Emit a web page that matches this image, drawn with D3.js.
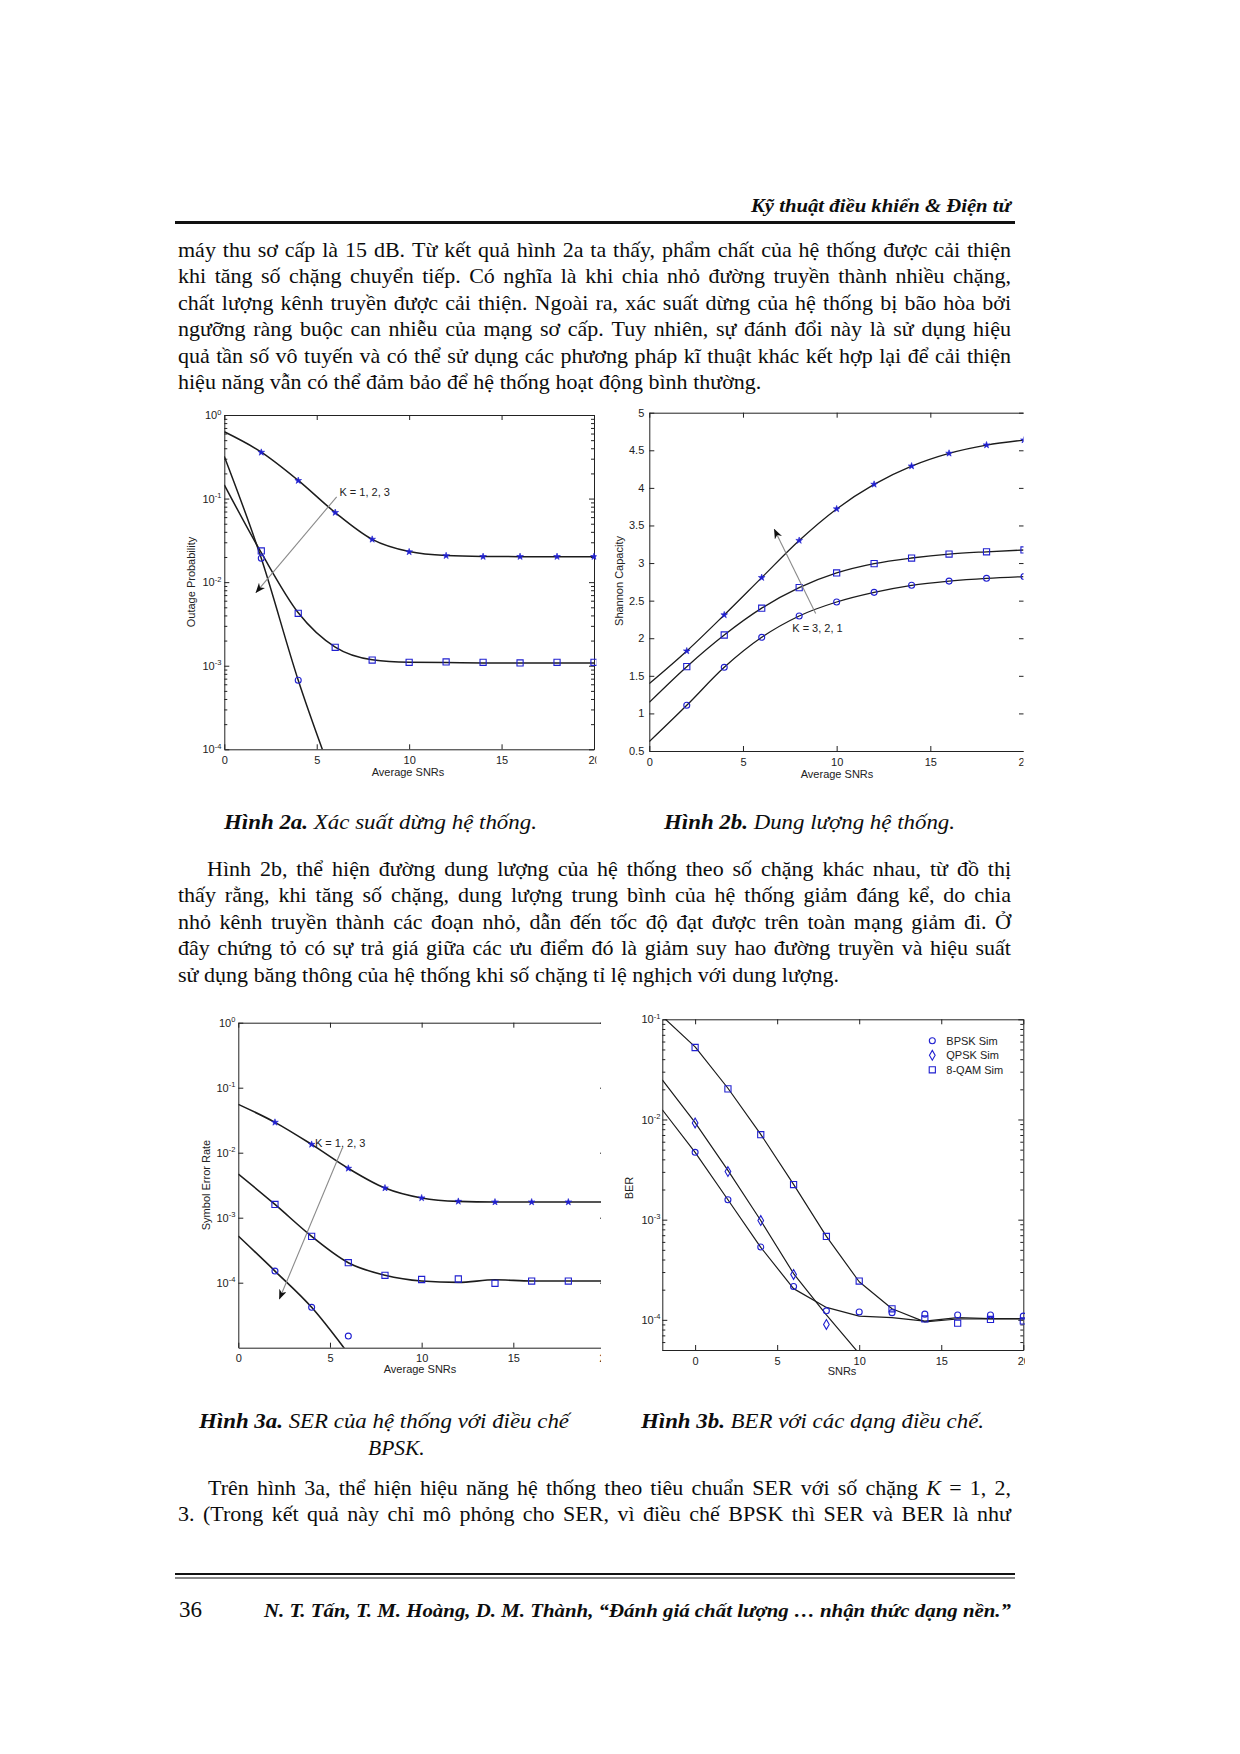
<!DOCTYPE html>
<html>
<head>
<meta charset="utf-8">
<script src="https://cdn.jsdelivr.net/npm/d3@7"></script>
<style>
  body { margin: 0; background: #fff; }
  svg { display: block; }
  .serif { font-family: "Liberation Serif", "Times New Roman", serif; fill: #0d0d0d; white-space: pre; }
  .ax text, .sans { font-family: "Liberation Sans", Arial, sans-serif; font-size: 11px; fill: #222; }
  .ax path, .ax line { stroke: #222; }
</style>
</head>
<body>
<div id="page"></div>
<script>
// ---- chart data ----
const snr = [0, 2, 4, 6, 8, 10, 12, 14, 16, 18, 20];
const snrSim = [2, 4, 6, 8, 10, 12, 14, 16, 18, 20];
const snrK3 = [0, 2, 4, 6];

// Hình 2a - Outage Probability
const outK1 = [0.63, 0.36, 0.165, 0.068, 0.0325, 0.0232, 0.0208, 0.0203, 0.0202, 0.0202, 0.0202];
const outK1Sim = [0.357, 0.164, 0.068, 0.0325, 0.023, 0.0207, 0.0202, 0.0202, 0.0202, 0.0202];
const outK2 = [0.146, 0.0225, 0.0043, 0.00167, 0.00118, 0.0011, 0.00109, 0.00108, 0.00108, 0.00108, 0.00108];
const outK2Sim = [0.0236, 0.00424, 0.00166, 0.00117, 0.0011, 0.00111, 0.0011, 0.00108, 0.0011, 0.0011];
const outK3 = [0.32, 0.0193, 0.00067, 0.000038];
const outK3Sim = [0.0193, 0.00067];

// Hình 2b - Shannon Capacity
const capK1 = [1.396, 1.83, 2.31, 2.806, 3.3, 3.72, 4.047, 4.29, 4.46, 4.57, 4.636];
const capK2 = [1.148, 1.622, 2.043, 2.4, 2.673, 2.868, 2.992, 3.067, 3.12, 3.15, 3.174];
const capK3 = [0.625, 1.108, 1.613, 2.012, 2.296, 2.482, 2.61, 2.704, 2.76, 2.797, 2.82];
const capTicks = [0.5, 1, 1.5, 2, 2.5, 3, 3.5, 4, 4.5, 5];

// Hình 3a - Symbol Error Rate
const snrSer = [2, 4, 6, 8, 10, 12, 14, 16, 18];
const serK1 = [0.0554, 0.0293, 0.0134, 0.00574, 0.00286, 0.00201, 0.00178, 0.00174, 0.00174, 0.00174, 0.00174];
const serK1Sim = [0.0293, 0.0134, 0.00574, 0.00286, 0.00201, 0.00178, 0.00174, 0.00174, 0.00174];
const serK2 = [0.0047, 0.0016, 0.000516, 0.000203, 0.00013, 0.000106, 0.000101, 0.000111, 0.000106, 0.000106, 0.000106];
const serK2Sim = [0.0016, 0.000516, 0.000203, 0.00013, 0.000112, 0.000114, 0.000098, 0.000106, 0.000106];
const serK3 = [0.000522, 0.000151, 0.0000418, 0.0000081];
const serK3Sim = [0.000151, 0.0000418, 0.0000151];

// Hình 3b - BER
const snrBer = [-2, 0, 2, 4, 6, 8, 10, 12, 14, 16, 18, 20];
const snrBerQ = [-2, 0, 2, 4, 6, 8, 10];
const snrBerQSim = [0, 2, 4, 6, 8];
const berBpsk = [0.0125, 0.0047, 0.00158, 0.00053, 0.000205, 0.000133, 0.000109, 0.000105, 0.000097, 0.000105, 0.000103, 0.000103];
const berBpskSim = [0.0047, 0.00158, 0.000533, 0.000215, 0.000123, 0.00012, 0.000118, 0.000114, 0.000112, 0.000112, 0.000109];
const berQpsk = [0.0249, 0.0093, 0.0031, 0.00098, 0.00029, 0.000112, 0.000046];
const berQpskSim = [0.00923, 0.00302, 0.00098, 0.000284, 0.00009];
const berQam = [0.107, 0.053, 0.0205, 0.0071, 0.00225, 0.00068, 0.00024, 0.000129, 0.0000955, 0.000102, 0.000102, 0.000102];
const berQamSim = [0.0523, 0.0202, 0.00705, 0.00224, 0.00068, 0.000244, 0.000129, 0.000102, 0.0000925, 0.000101, 0.0000975];
const berLegend = ["BPSK Sim", "QPSK Sim", "8-QAM Sim"];

const snrTicks = [0, 5, 10, 15, 20];

// ---- page text ----
const para1 = [
  "máy thu sơ cấp là 15 dB. Từ kết quả hình 2a ta thấy, phẩm chất của hệ thống được cải thiện",
  "khi tăng số chặng chuyển tiếp. Có nghĩa là khi chia nhỏ đường truyền thành nhiều chặng,",
  "chất lượng kênh truyền được cải thiện. Ngoài ra, xác suất dừng của hệ thống bị bão hòa bởi",
  "ngưỡng ràng buộc can nhiễu của mạng sơ cấp. Tuy nhiên, sự đánh đổi này là sử dụng hiệu",
  "quả tần số vô tuyến và có thể sử dụng các phương pháp kĩ thuật khác kết hợp lại để cải thiện",
  "hiệu năng vẫn có thể đảm bảo để hệ thống hoạt động bình thường."
];
const para2 = [
  "Hình 2b, thể hiện đường dung lượng của hệ thống theo số chặng khác nhau, từ đồ thị",
  "thấy rằng, khi tăng số chặng, dung lượng trung bình của hệ thống giảm đáng kể, do chia",
  "nhỏ kênh truyền thành các đoạn nhỏ, dẫn đến tốc độ đạt được trên toàn mạng giảm đi. Ở",
  "đây chứng tỏ có sự trả giá giữa các ưu điểm đó là giảm suy hao đường truyền và hiệu suất",
  "sử dụng băng thông của hệ thống khi số chặng tỉ lệ nghịch với dung lượng."
];
const para3 = [
  "Trên hình 3a, thể hiện hiệu năng hệ thống theo tiêu chuẩn SER với số chặng _K = 1, 2,",
  "3. (Trong kết quả này chỉ mô phỏng cho SER, vì điều chế BPSK thì SER và BER là như"
];

const blue = "#2020d0";
const ink = "#1c1c1c";

const svg = d3.select("#page").append("svg").attr("width", 1240).attr("height", 1754);
svg.append("rect").attr("width", 1240).attr("height", 1754).attr("fill", "#fff");
const defs = svg.append("defs");
defs.append("marker").attr("id", "arrow")
  .attr("viewBox", "0 0 10 8").attr("refX", 9.5).attr("refY", 4)
  .attr("markerWidth", 10).attr("markerHeight", 8)
  .attr("markerUnits", "userSpaceOnUse").attr("orient", "auto")
  .append("path").attr("d", "M0,0 L10,4 L0,8 L3,4 Z").attr("fill", "#111");

// justified line: words spread between x0 and x1
function textLine(str, x0, x1, y, justify) {
  const g = svg.append("g").attr("class", "serif").style("font-size", "22px");
  const words = str.split(" ");
  const nodes = words.map(w => {
    const t = g.append("text").attr("y", y);
    if (w.startsWith("_")) t.style("font-style", "italic").text(w.slice(1));
    else t.text(w);
    return t;
  });
  const widths = nodes.map(t => t.node().getComputedTextLength());
  const gap = justify ? (x1 - x0 - d3.sum(widths)) / (words.length - 1) : 5.6;
  let x = x0;
  nodes.forEach((t, i) => { t.attr("x", x); x += widths[i] + gap; });
}

function paragraph(lines, y0, indent, lastJustified) {
  lines.forEach((line, i) => {
    const last = i === lines.length - 1;
    textLine(line, 178 + (i === 0 ? indent : 0), 1011, y0 + i * 26.4, !last || lastJustified);
  });
}

function richText(parts, x, y, size, width) {
  const t = svg.append("text").attr("class", "serif").attr("x", x).attr("y", y).style("font-size", size + "px");
  parts.forEach(p => t.append("tspan")
    .style("font-weight", p.b ? "bold" : "normal")
    .style("font-style", p.i ? "italic" : "normal")
    .text(p.t));
  if (width) t.attr("textLength", width).attr("lengthAdjust", "spacingAndGlyphs");
  return t;
}

// header
richText([{ t: "Kỹ thuật điều khiển & Điện tử", b: 1, i: 1 }], 751, 212, 19.5, 260);
svg.append("line").attr("x1", 175).attr("x2", 1015).attr("y1", 222.5).attr("y2", 222.5)
  .attr("stroke", "#111").attr("stroke-width", 3);

paragraph(para1, 257, 0, false);
paragraph(para2, 876, 29, false);
paragraph(para3, 1495, 30, true);

// captions
richText([{ t: "Hình 2a.", b: 1, i: 1 }, { t: " Xác suất dừng hệ thống.", i: 1 }], 224, 829, 21.5, 313);
richText([{ t: "Hình 2b.", b: 1, i: 1 }, { t: " Dung lượng hệ thống.", i: 1 }], 664, 829, 21.5, 291);
richText([{ t: "Hình 3a.", b: 1, i: 1 }, { t: " SER của hệ thống với điều chế", i: 1 }], 199, 1428, 21.5, 370);
richText([{ t: "BPSK.", i: 1 }], 368, 1455, 21.5);
richText([{ t: "Hình 3b.", b: 1, i: 1 }, { t: " BER với các dạng điều chế.", i: 1 }], 641, 1428, 21.5, 343);

// footer
svg.append("line").attr("x1", 175).attr("x2", 1015).attr("y1", 1574).attr("y2", 1574)
  .attr("stroke", "#111").attr("stroke-width", 2);
svg.append("line").attr("x1", 175).attr("x2", 1015).attr("y1", 1578).attr("y2", 1578)
  .attr("stroke", "#111").attr("stroke-width", 1);
richText([{ t: "36" }], 179, 1617, 23);
richText([{ t: "N. T. Tấn, T. M. Hoàng, D. M. Thành, “Đánh giá chất lượng … nhận thức dạng nền.”", b: 1, i: 1 }],
  264, 1617, 19.5, 747);

// ---- charts ----
function drawChart(o) {
  const x = d3.scaleLinear().domain(o.xDomain).range([o.left, o.right]);
  const y = (o.log ? d3.scaleLog() : d3.scaleLinear()).domain(o.yDomain).range([o.bottom, o.top]);

  defs.append("clipPath").attr("id", o.id + "-fig").append("rect")
    .attr("x", o.left - 70).attr("y", o.top - 15)
    .attr("width", o.clip - o.left + 70).attr("height", o.bottom - o.top + 50);
  defs.append("clipPath").attr("id", o.id + "-plot").append("rect")
    .attr("x", o.left).attr("y", o.top)
    .attr("width", Math.min(o.right, o.clip) - o.left).attr("height", o.bottom - o.top);

  const fig = svg.append("g").attr("clip-path", `url(#${o.id}-fig)`);
  const tk = 5;

  fig.append("g").attr("class", "ax").attr("transform", `translate(0,${o.bottom})`)
    .call(d3.axisBottom(x).tickValues(snrTicks).tickSizeInner(-tk).tickSizeOuter(0).tickPadding(7).tickFormat(d => d));
  fig.append("g").attr("class", "ax").attr("transform", `translate(0,${o.top})`)
    .call(d3.axisTop(x).tickValues(snrTicks).tickSizeInner(-tk).tickSizeOuter(0).tickFormat(""));
  const leftAx = fig.append("g").attr("class", "ax").attr("transform", `translate(${o.left},0)`)
    .call(d3.axisLeft(y).tickValues(o.yTicks).tickSizeInner(-tk).tickSizeOuter(0).tickPadding(o.pad).tickFormat(d => d));
  fig.append("g").attr("class", "ax").attr("transform", `translate(${o.right},0)`)
    .call(d3.axisRight(y).tickValues(o.yTicks).tickSizeInner(-tk).tickSizeOuter(0).tickFormat(""));

  if (o.log) {
    leftAx.selectAll(".tick text").text("").each(function (d) {
      const t = d3.select(this);
      t.append("tspan").text("10");
      t.append("tspan").attr("dy", "-0.6em").style("font-size", "7.5px").text(Math.round(Math.log10(d)));
    });
    if (o.minor) {
      const minor = y.ticks().filter(v => Math.abs(Math.log10(v) - Math.round(Math.log10(v))) > 1e-6);
      fig.append("g").attr("class", "ax").attr("transform", `translate(${o.left},0)`)
        .call(d3.axisLeft(y).tickValues(minor).tickSizeInner(-3).tickSizeOuter(0).tickFormat(""))
        .select(".domain").remove();
      fig.append("g").attr("class", "ax").attr("transform", `translate(${o.right},0)`)
        .call(d3.axisRight(y).tickValues(minor).tickSizeInner(-3).tickSizeOuter(0).tickFormat(""))
        .select(".domain").remove();
    }
  }

  fig.append("text").attr("class", "sans")
    .attr("transform", `translate(${o.ylab[0]},${o.ylab[1]}) rotate(-90)`)
    .attr("text-anchor", "middle").attr("dy", "0.35em").text(o.ylabel);
  fig.append("text").attr("class", "sans")
    .attr("x", o.xlab[0]).attr("y", o.xlab[1]).attr("text-anchor", "middle").text(o.xlabel);

  const plot = fig.append("g").attr("clip-path", `url(#${o.id}-plot)`);
  const line = d3.line().x(d => x(d[0])).y(d => y(d[1])).curve(o.curve);
  o.lines.forEach(s => {
    plot.append("path").datum(d3.zip(s[0], s[1]))
      .attr("fill", "none").attr("stroke", ink).attr("stroke-width", o.lw)
      .attr("stroke-linejoin", "round").attr("d", line);
  });

  o.marks.forEach(m => {
    fig.append("g").selectAll("path").data(d3.zip(m.x, m.y)).join("path")
      .attr("transform", d => `translate(${x(d[0])},${y(d[1])})`)
      .attr("d", d3.symbol().type(m.type).size(m.size))
      .attr("fill", m.fill ? blue : "none").attr("stroke", blue).attr("stroke-width", m.fill ? 0.6 : 1.1);
  });

  if (o.arrow) {
    const a = o.arrow;
    fig.append("line")
      .attr("x1", x(a.from[0])).attr("y1", y(a.from[1]))
      .attr("x2", x(a.to[0])).attr("y2", y(a.to[1]))
      .attr("stroke", "#8a8a8a").attr("stroke-width", 1.1).attr("marker-end", "url(#arrow)");
    fig.append("text").attr("class", "sans")
      .attr("x", x(a.at[0])).attr("y", y(a.at[1])).attr("dy", "0.35em").text(a.text);
  }

  if (o.legend) {
    const lg = fig.append("g").attr("transform", `translate(${o.right - 91},${o.top + 21.5})`);
    o.legend.forEach((name, i) => {
      lg.append("path").attr("transform", `translate(0,${i * 14.5})`)
        .attr("d", d3.symbol().type(o.marks[i].type).size(o.marks[i].size))
        .attr("fill", "none").attr("stroke", blue).attr("stroke-width", 1.1);
      lg.append("text").attr("class", "sans").attr("x", 14).attr("y", i * 14.5).attr("dy", "0.35em").text(name);
    });
  }
}

drawChart({
  id: "f2a", left: 224.3, right: 594, top: 415, bottom: 749.3, clip: 596.5,
  xDomain: [0, 20], log: true, yDomain: [1e-4, 1], yTicks: [1e-4, 1e-3, 1e-2, 1e-1, 1], minor: true, pad: 3,
  ylabel: "Outage Probability", ylab: [190.7, 582], xlabel: "Average SNRs", xlab: [408, 775.5],
  lw: 1.5, curve: d3.curveMonotoneX,
  lines: [[snr, outK1], [snr, outK2], [snrK3, outK3]],
  marks: [
    { x: snrSim, y: outK1Sim, type: d3.symbolStar, size: 14, fill: true },
    { x: snrSim, y: outK2Sim, type: d3.symbolSquare, size: 38 },
    { x: [2, 4], y: outK3Sim, type: d3.symbolCircle, size: 28 }
  ],
  arrow: { from: [6.08, 0.105], to: [1.71, 0.0075], at: [6.23, 0.118], text: "K = 1, 2, 3" }
});

drawChart({
  id: "f2b", left: 649.3, right: 1024, top: 412.7, bottom: 751, clip: 1023.5,
  xDomain: [0, 20], log: false, yDomain: [0.5, 5], yTicks: capTicks, pad: 5,
  ylabel: "Shannon Capacity", ylab: [619, 581], xlabel: "Average SNRs", xlab: [837, 778],
  lw: 1.3, curve: d3.curveMonotoneX,
  lines: [[snr, capK1], [snr, capK2], [snr, capK3]],
  marks: [
    { x: snrSim, y: capK1.slice(1), type: d3.symbolStar, size: 14, fill: true },
    { x: snrSim, y: capK2.slice(1), type: d3.symbolSquare, size: 38 },
    { x: snrSim, y: capK3.slice(1), type: d3.symbolCircle, size: 28 }
  ],
  arrow: { from: [8.88, 2.33], to: [6.67, 3.45], at: [7.63, 2.14], text: "K = 3, 2, 1" }
});

drawChart({
  id: "f3a", left: 238.3, right: 605, top: 1022.7, bottom: 1347.7, clip: 601,
  xDomain: [0, 20], log: true, yDomain: [1e-5, 1], yTicks: [1e-4, 1e-3, 1e-2, 1e-1, 1], minor: false, pad: 3,
  ylabel: "Symbol Error Rate", ylab: [205.7, 1185], xlabel: "Average SNRs", xlab: [420, 1373],
  lw: 1.6, curve: d3.curveMonotoneX,
  lines: [[snr, serK1], [snr, serK2], [snrK3, serK3]],
  marks: [
    { x: snrSer, y: serK1Sim, type: d3.symbolStar, size: 14, fill: true },
    { x: snrSer, y: serK2Sim, type: d3.symbolSquare, size: 38 },
    { x: [2, 4, 6], y: serK3Sim, type: d3.symbolCircle, size: 28 }
  ],
  arrow: { from: [5.67, 0.0117], to: [2.24, 5.6e-5], at: [4.18, 0.0139], text: "K = 1, 2, 3" }
});

drawChart({
  id: "f3b", left: 662.3, right: 1023.3, top: 1019.3, bottom: 1350, clip: 1025,
  xDomain: [-2, 20], log: true, yDomain: [5e-5, 0.1], yTicks: [1e-4, 1e-3, 1e-2, 1e-1], minor: true, pad: 2,
  ylabel: "BER", ylab: [629.3, 1188], xlabel: "SNRs", xlab: [842, 1375],
  lw: 1.2, curve: d3.curveLinear,
  lines: [[snrBer, berBpsk], [snrBerQ, berQpsk], [snrBer, berQam]],
  marks: [
    { x: snr, y: berBpskSim, type: d3.symbolCircle, size: 28 },
    { x: snrBerQSim, y: berQpskSim, type: d3.symbolDiamond, size: 28 },
    { x: snr, y: berQamSim, type: d3.symbolSquare, size: 38 }
  ],
  legend: berLegend
});
</script>
</body>
</html>
